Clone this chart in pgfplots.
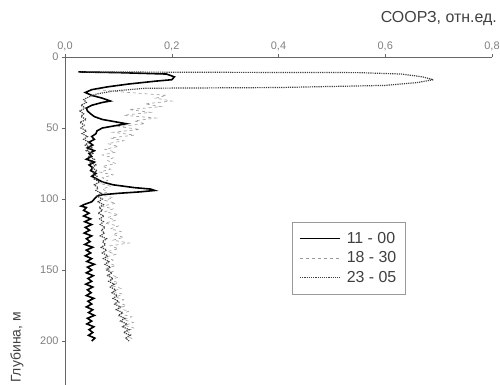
\documentclass[border=0pt]{standalone}
\usepackage{pgfplots}
\pgfplotsset{compat=1.18}
\usepackage{fontspec}
\setmainfont{Liberation Sans}
\usetikzlibrary{calc}
\begin{document}
\begin{tikzpicture}
\begin{axis}[
  name=ax,
  scale only axis, width=427bp, height=328bp,
  xmin=0, xmax=0.8, ymin=0, ymax=231,
  y dir=reverse,
  axis x line*=top, axis y line*=left,
  axis line style={black!60, -},
  xtick={0,0.2,0.4,0.6,0.8}, ytick={0,50,100,150,200},
  xticklabel style={/pgf/number format/.cd, fixed, fixed zerofill, precision=1, use comma},
  /pgf/number format/assume math mode=true,
  tick label style={font=\fontsize{11}{12}\selectfont, text=black!50},
  tick align=outside, major tick length=3bp, tick style={black!60},
  clip=false,
  legend style={at={(axis cs:0.4253,116.2)}, anchor=north west, draw=black!40,
    font=\fontsize{16}{20}\selectfont, text=black!75, row sep=3pt, inner xsep=7pt, inner ysep=8pt,
    /tikz/every odd column/.append style={column sep=4pt}},
  legend cell align=left,
  legend image code/.code={\draw[#1] (0bp,0bp) -- (40bp,0bp);},
]
\addplot[black, line width=1.6pt] coordinates {(0.025,10.5)(0.10,11)(0.19,12)(0.205,14)(0.20,16)(0.17,17)(0.12,19)(0.08,21)(0.05,23)(0.038,25)(0.05,27)(0.07,29)(0.085,31)(0.07,32)(0.05,34)(0.04,36)(0.042,38)(0.048,40)(0.055,42)(0.07,44)(0.10,46)(0.115,47)(0.10,48)(0.07,50)(0.06,52)(0.058,54)(0.05,56)(0.055,58)(0.045,60)(0.052,62)(0.042,64)(0.055,66)(0.045,68)(0.05,70)(0.04,72)(0.055,74)(0.045,76)(0.052,78)(0.048,80)(0.058,82)(0.05,84)(0.06,86)(0.07,88)(0.09,90)(0.13,92)(0.16,93)(0.168,94)(0.14,95)(0.10,96)(0.07,97)(0.06,98)(0.055,100)(0.05,102)(0.035,104)(0.03,105)(0.04,106)(0.035,108)(0.045,110)(0.035,112)(0.048,114)(0.037,116)(0.05,118)(0.038,120)(0.046,122)(0.036,124)(0.05,126)(0.04,128)(0.047,130)(0.037,132)(0.052,134)(0.04,136)(0.048,138)(0.038,140)(0.05,142)(0.041,144)(0.055,146)(0.042,148)(0.05,150)(0.04,152)(0.053,154)(0.043,156)(0.05,158)(0.039,160)(0.052,162)(0.042,164)(0.049,166)(0.04,168)(0.054,170)(0.043,172)(0.05,174)(0.04,176)(0.052,178)(0.044,180)(0.055,182)(0.042,184)(0.05,186)(0.041,188)(0.054,190)(0.045,192)(0.052,194)(0.044,196)(0.056,198)(0.05,200)};
\addlegendentry{11 - 00}
\addplot[black!40, line width=0.6pt, dashed] coordinates {(0.06,23)(0.12,25)(0.19,27)(0.17,29)(0.2,31)(0.15,33)(0.18,35)(0.12,37)(0.16,39)(0.11,41)(0.17,43)(0.13,45)(0.15,47)(0.1,49)(0.14,51)(0.09,53)(0.13,55)(0.085,57)(0.11,59)(0.08,61)(0.1,63)(0.075,65)(0.095,67)(0.07,69)(0.09,71)(0.08,73)(0.095,75)(0.07,77)(0.085,79)(0.065,81)(0.09,83)(0.07,85)(0.08,87)(0.065,89)(0.085,91)(0.07,93)(0.08,95)(0.065,97)(0.09,99)(0.075,101)(0.095,103)(0.07,105)(0.09,107)(0.075,109)(0.1,111)(0.08,113)(0.095,115)(0.075,117)(0.1,119)(0.085,121)(0.105,123)(0.09,125)(0.11,127)(0.09,129)(0.12,131)(0.085,133)(0.1,135)(0.08,137)(0.095,139)(0.075,141)(0.09,143)(0.08,145)(0.095,147)(0.075,149)(0.09,151)(0.08,153)(0.1,155)(0.085,157)(0.1,159)(0.088,161)(0.105,163)(0.09,165)(0.108,167)(0.095,169)(0.11,171)(0.1,173)(0.115,175)(0.1,177)(0.12,179)(0.105,181)(0.125,183)(0.11,185)(0.128,187)(0.112,189)(0.13,191)(0.115,193)(0.125,195)(0.118,197)(0.13,199)};
\addlegendentry{18 - 30}
\addplot[black!75, line width=1.2pt, densely dotted] coordinates {(0.03,10.5)(0.3,10.8)(0.55,11)(0.63,12)(0.67,14)(0.69,16)(0.66,18)(0.6,20)(0.4,21.5)(0.15,22)(0.09,24)(0.06,26)(0.045,28)(0.035,30)(0.04,32)(0.03,34)(0.038,36)(0.028,38)(0.035,40)(0.03,42)(0.04,44)(0.028,46)(0.036,48)(0.03,50)(0.04,52)(0.032,54)(0.042,56)(0.035,58)(0.045,60)(0.038,62)(0.05,64)(0.04,66)(0.052,68)(0.045,70)(0.055,72)(0.047,74)(0.058,76)(0.05,78)(0.06,80)(0.052,82)(0.06,84)(0.055,86)(0.065,88)(0.055,90)(0.062,92)(0.058,94)(0.068,96)(0.06,98)(0.07,100)(0.062,102)(0.072,104)(0.064,106)(0.07,108)(0.062,110)(0.073,112)(0.065,114)(0.072,116)(0.066,118)(0.075,120)(0.068,122)(0.074,124)(0.066,126)(0.078,128)(0.07,130)(0.076,132)(0.068,134)(0.078,136)(0.07,138)(0.08,140)(0.072,142)(0.082,144)(0.075,146)(0.085,148)(0.078,150)(0.088,152)(0.08,154)(0.09,156)(0.082,158)(0.092,160)(0.085,162)(0.095,164)(0.088,166)(0.098,168)(0.09,170)(0.1,172)(0.093,174)(0.104,176)(0.096,178)(0.108,180)(0.1,182)(0.112,184)(0.104,186)(0.116,188)(0.108,190)(0.12,192)(0.11,194)(0.122,196)(0.114,198)(0.12,200)};
\addlegendentry{23 - 05}
\coordinate (o) at (axis cs:0,0);
\coordinate (br) at (axis cs:0.8,231);
\end{axis}
\node[anchor=east, font=\fontsize{16}{18}\selectfont, text=black!75, inner sep=0pt] at ($(o)+(432bp,38bp)$) {СООРЗ, отн.ед.};
\node[rotate=90, anchor=west, font=\fontsize{14}{16}\selectfont, text=black!75, inner sep=0pt] at ($(br)+(-475bp,2bp)$) {Глубина, м};
\pgfresetboundingbox
\path ($(o)+(-65bp,57bp)$) rectangle ($(br)+(8bp,0bp)$);
\end{tikzpicture}
\end{document}
